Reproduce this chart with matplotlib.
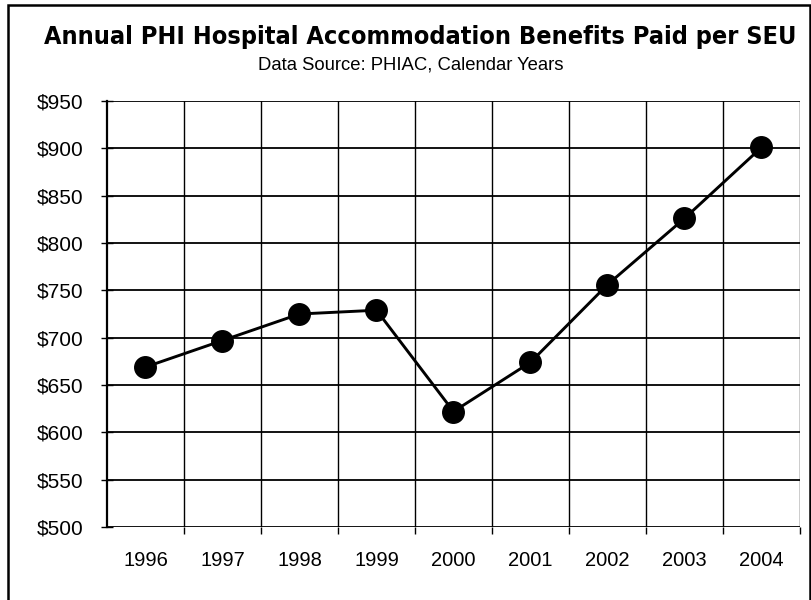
import matplotlib
matplotlib.use("Agg")
import matplotlib.pyplot as plt
from matplotlib.patches import Rectangle
import numpy as np

years = ["1996", "1997", "1998", "1999", "2000", "2001", "2002", "2003", "2004"]
benefits = [669, 697, 725, 729, 622, 674, 756, 826, 901]
yticks = [500, 550, 600, 650, 700, 750, 800, 850, 900, 950]
title = "Annual PHI Hospital Accommodation Benefits Paid per SEU"
subtitle = "Data Source: PHIAC, Calendar Years"

W, H = 812, 600
fig = plt.figure(figsize=(W / 100, H / 100), dpi=100)
fig.patch.set_facecolor("white")

# outer border
fig.add_artist(Rectangle((8 / W, -0.05), (810 - 8) / W, 1.05 - 5 / H,
                         transform=fig.transFigure, fill=False,
                         edgecolor="black", linewidth=1.8))

ax = fig.add_axes([107 / W, 1 - 527 / H, (800 - 107) / W, (527 - 101) / H])
x = np.arange(len(years))
ax.set_xlim(-0.5, len(years) - 0.5)
ax.set_ylim(yticks[0], yticks[-1])

# gridlines
for v in yticks:
    ax.axhline(v, color="black", linewidth=1.3, zorder=1)
for b in np.arange(0.5, len(years), 1.0):
    ax.axvline(b, color="black", linewidth=1.0, zorder=1)

ax.plot(x, benefits, color="black", linewidth=2.1, marker="o",
        markersize=15.5, markerfacecolor="black", markeredgecolor="black", zorder=3)

for s in ["top", "right", "bottom"]:
    ax.spines[s].set_visible(False)
ax.spines["left"].set_linewidth(1.6)

ax.set_yticks(yticks)
ax.set_yticklabels([f"${v}" for v in yticks], fontfamily="Liberation Sans", fontsize=15)
ax.tick_params(axis="y", direction="inout", length=8, width=1.0, pad=13)

ax.set_xticks(x)
ax.set_xticklabels(years, fontfamily="Liberation Sans", fontsize=14.5)
ax.tick_params(axis="x", length=0, pad=17)
ax.set_xticks(np.arange(0.5, len(years), 1.0), minor=True)
ax.tick_params(axis="x", which="minor", direction="out", length=5, width=1.0)

fig.text(420 / W, 1 - 37 / H, title, ha="center", va="center",
         fontfamily="DejaVu Sans", fontweight="bold", fontstretch="condensed",
         fontsize=18.1)
fig.text(411 / W, 1 - 65 / H, subtitle, ha="center", va="center",
         fontfamily="Liberation Sans", fontsize=13.3)

fig.savefig("out.png", dpi=100)
